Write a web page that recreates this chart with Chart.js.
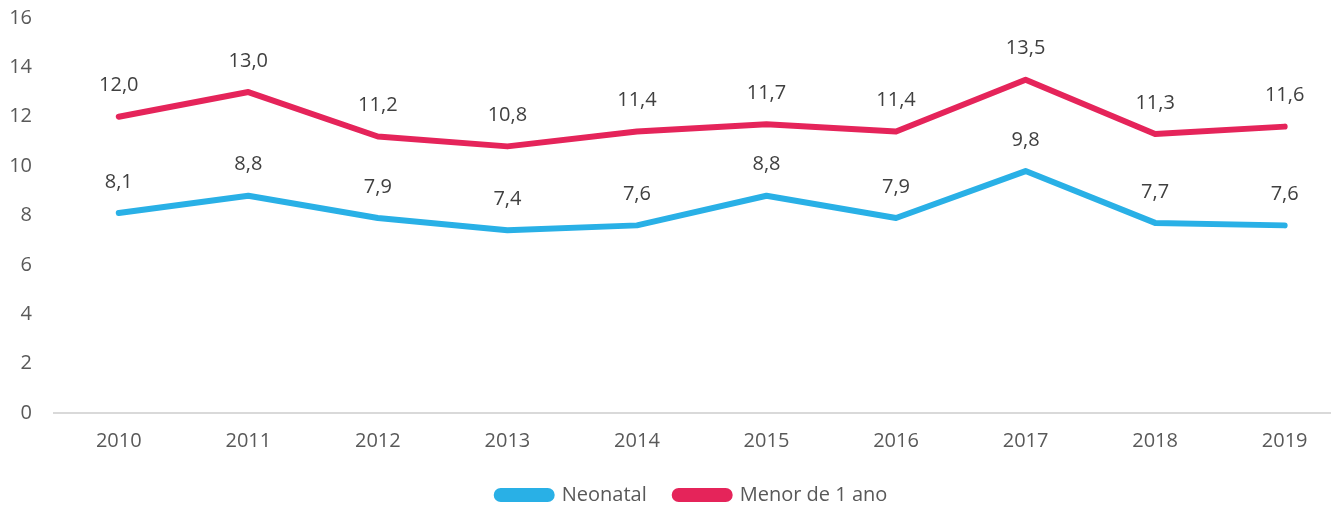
<!DOCTYPE html>
<html>
<head>
<meta charset="utf-8">
<script src="https://cdn.jsdelivr.net/npm/chart.js@4"></script>
<style>
  html, body { margin: 0; padding: 0; background: #fff; }
  #wrap { width: 1336px; height: 506px; }
</style>
</head>
<body>
<div id="wrap"><canvas id="mycanvas"></canvas></div>
<script>
var years = ['2010', '2011', '2012', '2013', '2014', '2015', '2016', '2017', '2018', '2019'];
var neonatal = [8.1, 8.8, 7.9, 7.4, 7.6, 8.8, 7.9, 9.8, 7.7, 7.6];
var menor1ano = [12.0, 13.0, 11.2, 10.8, 11.4, 11.7, 11.4, 13.5, 11.3, 11.6];

var textColor = '#595959';
var fontFamily = '"Open Sans", "Liberation Sans", sans-serif';

function toPoints(values){
	var pts = [];
	for(var i in years){
		pts.push({ x: Number(years[i]), y: values[i] });
	}
	return pts;
}

// labels above each point, with comma decimals
var valueLabels = {
	id: 'valueLabels',
	afterDatasetsDraw: function(chart){
		var ctx = chart.ctx;
		ctx.save();
		ctx.fillStyle = '#404040';
		ctx.font = '20px ' + fontFamily;
		ctx.textAlign = 'center';
		ctx.textBaseline = 'middle';
		chart.data.datasets.forEach(function(ds, i){
			var meta = chart.getDatasetMeta(i);
			meta.data.forEach(function(pt, j){
				ctx.fillText(ds.data[j].y.toFixed(1).replace('.', ','), pt.x, pt.y - 31);
			});
		});
		ctx.restore();
	}
};

var chartdata = {
	datasets: [
		{
			label: 'Neonatal',
			data: toPoints(neonatal),
			borderColor: '#29B0E6',
			backgroundColor: '#29B0E6',
			borderWidth: 6,
			borderCapStyle: 'round',
			borderJoinStyle: 'round',
			pointRadius: 0,
			tension: 0
		},
		{
			label: 'Menor de 1 ano',
			data: toPoints(menor1ano),
			borderColor: '#E5245A',
			backgroundColor: '#E5245A',
			borderWidth: 6,
			borderCapStyle: 'round',
			borderJoinStyle: 'round',
			pointRadius: 0,
			tension: 0
		}
	]
};

Chart.defaults.font.family = fontFamily;
Chart.defaults.color = textColor;

var lineGraph = new Chart(document.getElementById('mycanvas'), {
	type: 'line',
	data: chartdata,
	plugins: [valueLabels],
	options: {
		responsive: true,
		maintainAspectRatio: false,
		animation: false,
		layout: { padding: { top: 18, right: 6, bottom: -9, left: 0 } },
		plugins: {
			legend: {
				position: 'bottom',
				fullSize: false,
				labels: {
					boxWidth: 55,
					boxHeight: 8,
					useBorderRadius: true,
					borderRadius: 4,
					padding: 28,
					font: { size: 20 },
					color: textColor
				}
			},
			tooltip: { enabled: false }
		},
		scales: {
			x: {
				type: 'linear',
				min: 2009.5,
				max: 2019.35,
				grid: { display: false, drawTicks: false },
				border: { display: true, color: '#D9D9D9', width: 2 },
				afterBuildTicks: function(scale){
					scale.ticks = years.map(function(y){ return { value: Number(y) }; });
				},
				afterFit: function(scale){
					scale.height = 44;
					scale.paddingLeft = 0;
					scale.paddingRight = 0;
				},
				ticks: {
					autoSkip: false,
					maxRotation: 0,
					padding: 16,
					font: { size: 20 },
					color: textColor,
					callback: function(value){ return String(value); }
				}
			},
			y: {
				min: 0,
				max: 16,
				grid: { display: false, drawTicks: false },
				border: { display: false },
				afterFit: function(scale){
					scale.width = 54;
					scale.paddingTop = 0;
					scale.paddingBottom = 0;
				},
				ticks: { stepSize: 2, padding: 22, font: { size: 20 }, color: textColor }
			}
		}
	}
});
</script>
</body>
</html>
